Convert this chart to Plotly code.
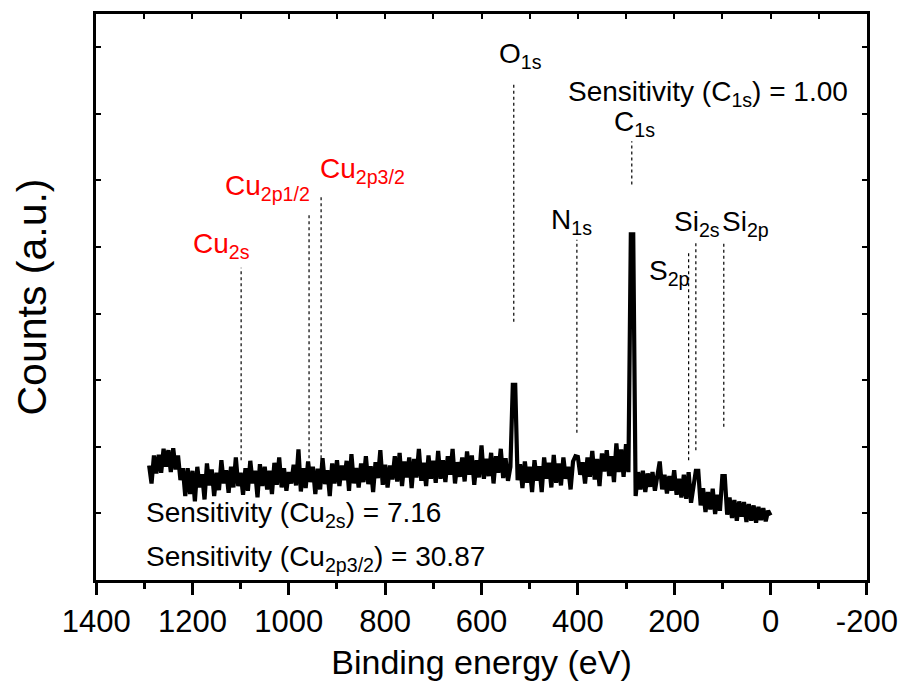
import numpy as np
import plotly.graph_objects as go

# XPS survey spectrum, 5 eV steps from 1290 eV down to 0 eV
binding_energy = np.arange(1290, -1, -5)
counts = [
    1.72, 1.45, 1.87, 1.60, 1.88, 1.61, 1.97, 1.70, 1.95, 1.62,
    1.98, 1.66, 1.87, 1.50, 1.68, 1.26, 1.68, 1.29, 1.64, 1.18,
    1.70, 1.39, 1.59, 1.21, 1.75, 1.42, 1.66, 1.26, 1.61, 1.35,
    1.80, 1.45, 1.65, 1.31, 1.70, 1.39, 1.84, 1.41, 1.61, 1.28,
    1.68, 1.34, 1.79, 1.45, 1.64, 1.24, 1.74, 1.41, 1.70, 1.36,
    1.64, 1.29, 1.76, 1.43, 1.84, 1.39, 1.68, 1.34, 1.62, 1.45,
    1.73, 1.42, 1.96, 1.33, 1.68, 1.38, 1.78, 1.47, 1.70, 1.29,
    1.67, 1.36, 1.83, 1.44, 1.65, 1.26, 1.75, 1.45, 1.80, 1.41,
    1.72, 1.50, 1.79, 1.34, 1.89, 1.45, 1.68, 1.39, 1.75, 1.47,
    1.86, 1.44, 1.71, 1.32, 1.77, 1.53, 1.95, 1.43, 1.73, 1.39,
    1.72, 1.51, 1.86, 1.48, 1.91, 1.41, 1.78, 1.54, 1.84, 1.38,
    1.82, 1.54, 1.97, 1.49, 1.76, 1.41, 1.87, 1.52, 1.79, 1.46,
    1.94, 1.52, 1.80, 1.47, 1.86, 1.58, 1.97, 1.45, 1.77, 1.55,
    1.84, 1.48, 1.93, 1.58, 1.87, 1.43, 1.80, 1.54, 2.02, 1.52,
    1.82, 1.56, 1.91, 1.45, 1.86, 1.61, 1.97, 1.53, 1.83, 1.49,
    1.70, 2.93, 2.93, 1.50, 1.74, 1.38, 1.78, 1.46, 1.70, 1.32,
    1.80, 1.49, 1.71, 1.32, 1.84, 1.52, 1.76, 1.39, 1.88, 1.46,
    1.75, 1.42, 1.84, 1.52, 1.70, 1.36, 1.78, 1.86, 1.85, 1.58,
    1.77, 1.45, 1.84, 1.55, 1.94, 1.51, 1.82, 1.41, 1.90, 1.63,
    1.95, 1.56, 1.86, 1.47, 2.05, 1.62, 1.96, 1.55, 2.04, 1.62,
    5.19, 5.19, 1.26, 1.62, 1.36, 1.64, 1.32, 1.60, 1.40, 1.62,
    1.34, 1.62, 1.78, 1.36, 1.58, 1.30, 1.56, 1.34, 1.65, 1.28,
    1.52, 1.24, 1.58, 1.22, 1.62, 1.16, 1.42, 1.64, 1.64, 1.12,
    1.38, 1.02, 1.32, 1.06, 1.37, 0.99, 1.28, 1.04, 1.56, 1.56,
    0.98, 1.24, 0.93, 1.20, 0.89, 1.18, 0.95, 1.17, 0.87, 1.14,
    0.89, 1.12, 0.86, 1.10, 0.90, 1.08, 0.88, 1.04, 0.97,
]

# Peak assignments: label, binding energy (eV), colour
peak_labels = ["Cu<sub>2s</sub>", "Cu<sub>2p1/2</sub>", "Cu<sub>2p3/2</sub>",
               "O<sub>1s</sub>", "C<sub>1s</sub>", "N<sub>1s</sub>",
               "S<sub>2p</sub>", "Si<sub>2s</sub>", "Si<sub>2p</sub>"]
peak_energy = [1099, 958, 933, 533, 288, 402, 170, 155, 97]
peak_color = ["#ff0000", "#ff0000", "#ff0000", "black", "black", "black",
              "black", "black", "black"]

# Layout of the marker lines (lower/upper ends) and label anchors
line_low = [1.80, 1.83, 1.83, 3.88, 5.94, 2.21, 1.80, 1.95, 2.30]
line_high = [4.69, 5.49, 5.76, 7.44, 6.59, 5.11, 4.95, 5.07, 5.06]
label_x = [1203, 1136, 939, 568, 329, 460, 257, 205, 105]
label_y = [5.02, 5.89, 6.15, 7.87, 6.85, 5.38, 4.62, 5.36, 5.36]

sens_text = ["Sensitivity (C<sub>1s</sub>) = 1.00",
             "Sensitivity (Cu<sub>2s</sub>) = 7.16",
             "Sensitivity (Cu<sub>2p3/2</sub>) = 30.87"]
sens_x = [425, 1300, 1300]
sens_y = [7.30, 0.98, 0.33]

FONT = "Liberation Sans, Arial, sans-serif"

fig = go.Figure()
fig.add_trace(go.Scatter(
    x=binding_energy, y=counts, mode="lines",
    line=dict(color="black", width=4.2), showlegend=False, hoverinfo="skip",
))
# invisible trace carrying the top axis
fig.add_trace(go.Scatter(x=[1400, -200], y=[0, 0], xaxis="x2", mode="markers",
                         marker=dict(opacity=0), showlegend=False, hoverinfo="skip"))

for xe, lo, hi in zip(peak_energy, line_low, line_high):
    fig.add_shape(type="line", xref="x", yref="y", x0=xe, x1=xe, y0=lo, y1=hi,
                  line=dict(color="black", width=1.2, dash="dot"))

for txt, xl, yl, col in zip(peak_labels, label_x, label_y, peak_color):
    fig.add_annotation(x=xl, y=yl, xref="x", yref="y", text=txt, showarrow=False,
                       xanchor="left", yanchor="middle",
                       font=dict(family=FONT, size=28, color=col))

for txt, xl, yl in zip(sens_text, sens_x, sens_y):
    fig.add_annotation(x=xl, y=yl, xref="x", yref="y", text=txt, showarrow=False,
                       xanchor="left", yanchor="middle",
                       font=dict(family=FONT, size=28, color="black"))

x_ticks = [1400, 1200, 1000, 800, 600, 400, 200, 0, -200]

fig.update_layout(
    width=902, height=688,
    margin=dict(l=96, r=35, t=14, b=108, autoexpand=False),
    paper_bgcolor="white", plot_bgcolor="white",
    font=dict(family=FONT, color="black"),
    xaxis=dict(
        range=[1400.3, -200.3], tickmode="array", tickvals=x_ticks,
        ticktext=[str(v) for v in x_ticks], ticks="outside", ticklen=12,
        tickwidth=2.5, tickcolor="black", showline=True, linewidth=3,
        linecolor="black", mirror=True, showgrid=False, zeroline=False,
        tickfont=dict(size=31, family=FONT), automargin=False,
        minor=dict(tickmode="array", tickvals=[1300, 1100, 900, 700, 500, 300, 100, -100],
                   ticks="outside", ticklen=6, tickwidth=2.5,
                   tickcolor="black", showgrid=False),
        title=dict(text="Binding energy (eV)", font=dict(size=34, family=FONT),
                   standoff=12),
    ),
    xaxis2=dict(
        range=[1400.3, -200.3], overlaying="x", side="top", tick0=0, dtick=100,
        ticks="inside", ticklen=5, tickwidth=1.5, tickcolor="black",
        showticklabels=False, showgrid=False, zeroline=False, showline=False,
    ),
    yaxis=dict(
        range=[0, 8.5], tick0=0, dtick=1, ticks="inside", ticklen=5,
        tickwidth=2, tickcolor="black", showticklabels=False, showline=True,
        linewidth=3, linecolor="black", mirror="ticks", showgrid=False,
        zeroline=False, automargin=False,
        title=dict(text="Counts (a.u.)", font=dict(size=41, family=FONT),
                   standoff=34),
    ),
)

fig.write_html("out.html")
